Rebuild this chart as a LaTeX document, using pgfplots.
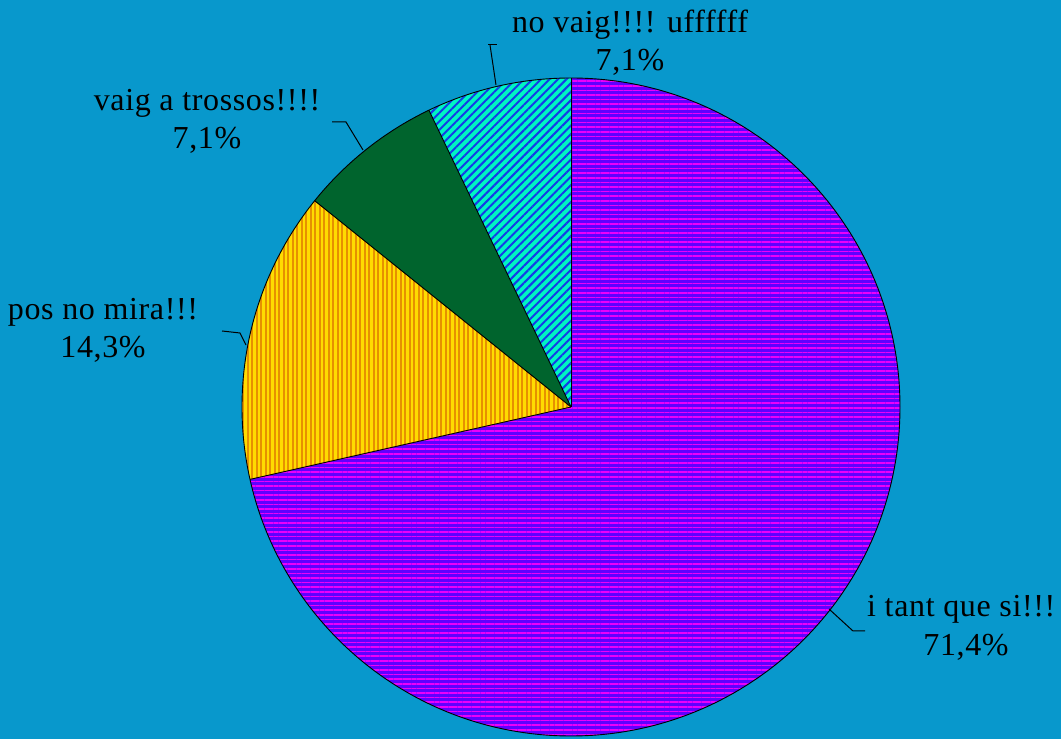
\documentclass[border=0pt]{standalone}
\usepackage{pgfplots}
\pgfplotsset{compat=1.18}
\usepackage{pgfplotstable}
\usetikzlibrary{patterns.meta}
\usepackage{fontspec}
\setmainfont{Liberation Serif}[LetterSpace=2]
\definecolor{bgblue}{RGB}{8,152,204}
\definecolor{pviolet}{RGB}{95,0,255}
\definecolor{pmag}{RGB}{235,0,250}
\definecolor{pyel}{RGB}{255,220,0}
\definecolor{porange}{RGB}{230,145,0}
\definecolor{pgreen}{RGB}{0,100,45}
\definecolor{pteal}{RGB}{0,245,195}
\definecolor{pblue}{RGB}{20,60,230}
\pgfplotstableread{
label value
a 71.4
b 14.3
c 7.1
d 7.1
}\piedata
\begin{document}
\begin{tikzpicture}
\pgfplotstablegetelem{0}{value}\of\piedata \let\va\pgfplotsretval
\pgfplotstablegetelem{1}{value}\of\piedata \let\vb\pgfplotsretval
\pgfplotstablegetelem{2}{value}\of\piedata \let\vc\pgfplotsretval
\pgfplotstablegetelem{3}{value}\of\piedata \let\vd\pgfplotsretval
\pgfmathsetmacro\tot{\va+\vb+\vc+\vd}
\pgfmathsetmacro\aA{90}
\pgfmathsetmacro\aB{\aA-360*(\va/\tot)}
\pgfmathsetmacro\aC{\aB-360*(\vb/\tot)}
\pgfmathsetmacro\aD{\aC-360*(\vc/\tot)}
\pgfmathsetmacro\aE{\aD-360*(\vd/\tot)}
\begin{axis}[width=1061pt, height=739pt, scale only axis,
  xmin=0, xmax=1061, ymin=0, ymax=739,
  axis line style={draw=none}, xtick=\empty, ytick=\empty,
  axis background/.style={fill=bgblue}, clip=false]
% slices
\fill[pviolet] (axis cs:571,332) -- ++(\aA:329pt) arc[start angle=\aA, end angle=\aB, radius=329pt] -- cycle;
\fill[pattern={Lines[angle=0, distance=4.6pt, line width=1.6pt]}, pattern color=pmag] (axis cs:571,332) -- ++(\aA:329pt) arc[start angle=\aA, end angle=\aB, radius=329pt] -- cycle;
\fill[pyel] (axis cs:571,332) -- ++(\aB:329pt) arc[start angle=\aB, end angle=\aC, radius=329pt] -- cycle;
\fill[pattern={Lines[angle=90, distance=4.5pt, line width=2pt]}, pattern color=porange] (axis cs:571,332) -- ++(\aB:329pt) arc[start angle=\aB, end angle=\aC, radius=329pt] -- cycle;
\fill[pgreen] (axis cs:571,332) -- ++(\aC:329pt) arc[start angle=\aC, end angle=\aD, radius=329pt] -- cycle;
\fill[pteal] (axis cs:571,332) -- ++(\aD:329pt) arc[start angle=\aD, end angle=\aE, radius=329pt] -- cycle;
\fill[pattern={Lines[angle=45, distance=6pt, line width=2pt]}, pattern color=pblue] (axis cs:571,332) -- ++(\aD:329pt) arc[start angle=\aD, end angle=\aE, radius=329pt] -- cycle;
\draw[black, line width=0.9pt] (axis cs:571,332) circle[radius=329pt];
\draw[black, line width=0.9pt] (axis cs:571,332) -- ++(\aA:329pt);
\draw[black, line width=0.9pt] (axis cs:571,332) -- ++(\aB:329pt);
\draw[black, line width=0.9pt] (axis cs:571,332) -- ++(\aC:329pt);
\draw[black, line width=0.9pt] (axis cs:571,332) -- ++(\aD:329pt);
% leader lines
\draw[black, line width=1pt] (axis cs:488,694) -- (axis cs:497,694);
\draw[black, line width=1pt] (axis cs:490,694) -- (axis cs:496,654);
\draw[black, line width=1pt] (axis cs:332,617) -- (axis cs:346,617) -- (axis cs:363,589);
\draw[black, line width=1pt] (axis cs:222,408) -- (axis cs:240,406) -- (axis cs:246,394);
\draw[black, line width=1pt] (axis cs:829,130) -- (axis cs:853,108) -- (axis cs:865,108);
% labels
\node[font=\fontsize{32}{38}\selectfont, align=center, text=black] at (axis cs:630,696) {no vaig!!!! uffffff\\7,1\%};
\node[font=\fontsize{32}{38}\selectfont, align=center, text=black] at (axis cs:207,618) {vaig a trossos!!!!\\7,1\%};
\node[font=\fontsize{32}{38}\selectfont, align=center, text=black] at (axis cs:103,409) {pos no mira!!!\\14,3\%};
\node[font=\fontsize{32}{38}\selectfont, align=center, text=black, anchor=west, inner xsep=1pt] at (axis cs:866,130) {i tant que si!!!};
\node[font=\fontsize{32}{38}\selectfont, text=black] at (axis cs:966,92) {71,4\%};
\end{axis}
\pgfresetboundingbox
\useasboundingbox (0,0) rectangle (1061pt,739pt);
\end{tikzpicture}
\end{document}
